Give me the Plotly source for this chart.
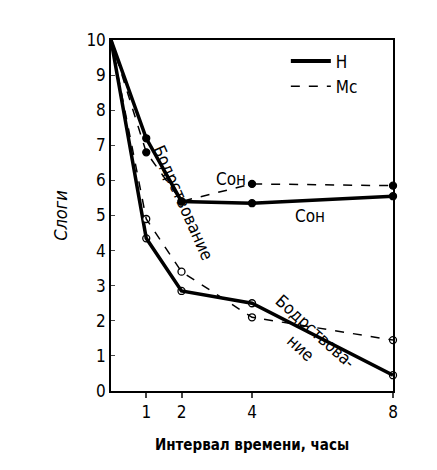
import plotly.graph_objects as go

hours = [0, 1, 2, 4, 8]
n_sleep = [10, 7.2, 5.4, 5.35, 5.55]
mc_sleep = [10, 6.8, 5.4, 5.9, 5.85]
n_wake = [10, 4.35, 2.85, 2.5, 0.45]
mc_wake = [10, 4.9, 3.4, 2.1, 1.45]

FONT = "DejaVu Sans Condensed"

fig = go.Figure()

def add(ys, dash, width, filled):
    fig.add_trace(go.Scatter(
        x=hours[1:], y=ys[1:], mode="markers", showlegend=False,
        marker=dict(size=7, color="black" if filled else "white",
                    line=dict(color="black", width=1.3)),
        cliponaxis=False))
    fig.add_trace(go.Scatter(
        x=hours, y=ys, mode="lines", showlegend=False,
        line=dict(color="black", width=width, dash=dash), cliponaxis=False))

add(n_sleep, "solid", 3.5, True)
add(mc_sleep, "dash", 1.5, True)
add(n_wake, "solid", 3.5, False)
add(mc_wake, "dash", 1.5, False)

# legend entries
fig.add_trace(go.Scatter(x=[None], y=[None], mode="lines", name="Н",
                         line=dict(color="black", width=4)))
fig.add_trace(go.Scatter(x=[None], y=[None], mode="lines", name="Мс",
                         line=dict(color="black", width=1.5, dash="dash")))

txt = dict(font=dict(family=FONT, size=17, color="black"), showarrow=False)
fig.add_annotation(x=3.4, y=6.05, text="Сон", **txt)
fig.add_annotation(x=5.65, y=5.0, text="Сон", **txt)
fig.add_annotation(x=2.05, y=5.35, text="Бодрствование", textangle=66, **txt)
fig.add_annotation(x=5.6, y=1.45, text="Бодрствова-<br>ние", textangle=42, **txt)

fig.update_layout(
    width=437, height=470,
    margin=dict(l=103, r=52, t=32, b=87),
    plot_bgcolor="white", paper_bgcolor="white",
    font=dict(family=FONT, size=17, color="black"),
    legend=dict(x=0.62, y=0.99, xanchor="left", yanchor="top",
                bgcolor="rgba(0,0,0,0)", font=dict(size=17),
                itemwidth=40, tracegroupgap=0),
)
fig.update_xaxes(range=[0, 8], tickvals=[1, 2, 4, 8], ticks="outside",
                 ticklen=5, tickwidth=1.5, showgrid=False, zeroline=False,
                 showline=True, linecolor="black", linewidth=1.5, mirror=True,
                 title=dict(text="<b>Интервал времени, часы</b>",
                            font=dict(size=15), standoff=18))
fig.update_yaxes(range=[0, 10], dtick=1, ticks="inside", ticklen=4,
                 showgrid=False, zeroline=False,
                 showline=True, linecolor="black", linewidth=1.5, mirror=True,
                 title=dict(text="<i>Слоги</i>", font=dict(size=18), standoff=14))

fig.write_html("out.html")
